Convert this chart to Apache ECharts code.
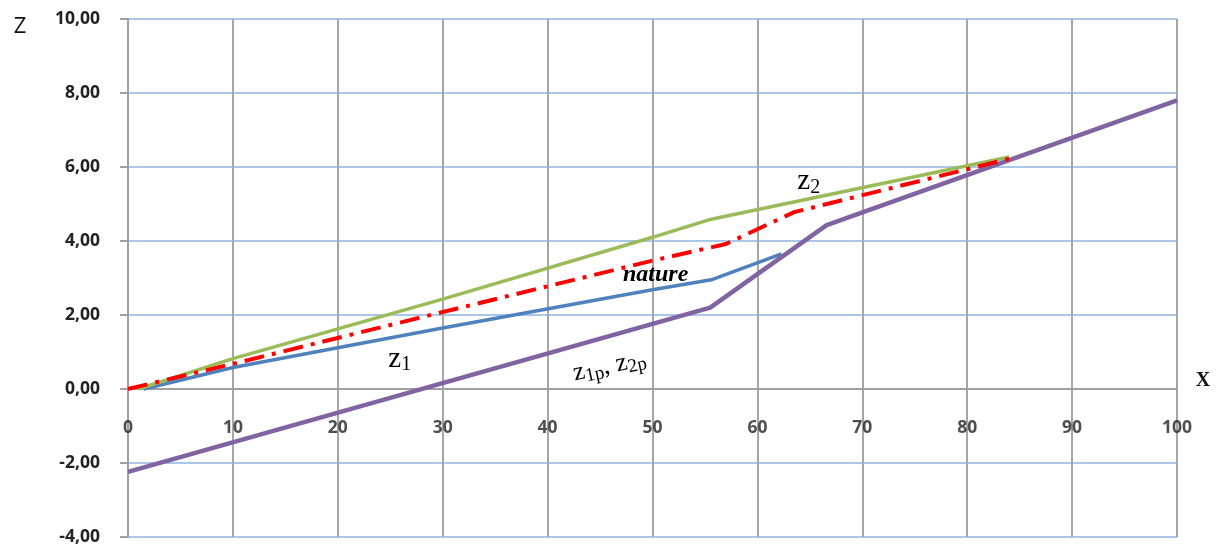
<!DOCTYPE html>
<html>
<head>
<meta charset="utf-8">
<script src="https://cdn.jsdelivr.net/npm/echarts@6/dist/echarts.min.js"></script>
<style>
html,body{margin:0;padding:0;background:#fff;}
#chart{width:1221px;height:549px;}
</style>
</head>
<body>
<div id="chart"></div>
<script>
// ---- data ----
const xTicks = [0, 10, 20, 30, 40, 50, 60, 70, 80, 90, 100];
const yTicks = [-4, -2, 0, 2, 4, 6, 8, 10];

const z1X = [1.5, 10, 30, 50, 55.6, 62.3];
const z1Y = [0, 0.58, 1.65, 2.68, 2.95, 3.65];

const z2X = [1, 10, 30, 50, 55.6, 84];
const z2Y = [0, 0.82, 2.43, 4.1, 4.59, 6.27];

const natureX = [0, 10, 30, 50, 57, 63.5, 84.7];
const natureY = [0, 0.68, 2.08, 3.47, 3.92, 4.78, 6.27];

const zpX = [0, 55.5, 66.6, 100];
const zpY = [-2.24, 2.2, 4.43, 7.8];

// annotation texts and anchor (data coords)
const annoTexts = ['z1', 'z2', 'z1p', 'nature'];
const annoX = [25.9, 64.9, 45.9, 50.3];
const annoY = [0.81, 5.6, 0.62, 3.08];

const pairs = (xs, ys) => xs.map((x, i) => [x, ys[i]]);

const chart = echarts.init(document.getElementById('chart'), null, {renderer: 'canvas'});

const labelFont = {fontFamily: 'Open Sans', fontWeight: 'bold', fontSize: 17.5, color: '#222'};

const option = {
  animation: false,
  backgroundColor: '#ffffff',
  grid: {left: 128, right: 44, top: 19, bottom: 12, containLabel: false, outerBoundsMode: 'none'},
  xAxis: {
    type: 'value', min: xTicks[0], max: xTicks[xTicks.length - 1], interval: 10,
    axisLine: {onZero: true, lineStyle: {color: '#A0A0A0', width: 2}},
    axisTick: {show: false},
    axisLabel: {show: false},
    splitLine: {show: true, lineStyle: {color: '#A6A6A6', width: 2}}
  },
  yAxis: {
    type: 'value', min: yTicks[0], max: yTicks[yTicks.length - 1], interval: 2,
    axisLine: {show: true, onZero: false, lineStyle: {color: '#A0A0A0', width: 2}},
    axisTick: {show: true, inside: false, length: 8, lineStyle: {color: '#A0A0A0', width: 2}},
    axisLabel: Object.assign({margin: 28, formatter: v => v.toFixed(2).replace('.', ',')}, labelFont),
    splitLine: {show: true, lineStyle: {color: '#8EB4E3', width: 1.5}}
  },
  series: [
    {name: 'z1', type: 'line', data: pairs(z1X, z1Y), showSymbol: false, symbol: 'none',
     lineStyle: {color: '#4F81BD', width: 3.5}, z: 3},
    {name: 'z2', type: 'line', data: pairs(z2X, z2Y), showSymbol: false, symbol: 'none',
     lineStyle: {color: '#9BBB59', width: 3.5}, z: 3},
    {name: 'zp', type: 'line', data: pairs(zpX, zpY), showSymbol: false, symbol: 'none',
     lineStyle: {color: '#8064A2', width: 4.5}, z: 4},
    {name: 'nature', type: 'line', data: pairs(natureX, natureY), showSymbol: false, symbol: 'none',
     lineStyle: {color: '#FF0000', width: 4, type: [20, 8, 4, 8]}, z: 5},
    // x tick labels placed along the zero line
    {name: 'xlabels', type: 'scatter', data: xTicks.map(v => [v, 0]), symbolSize: 0, silent: true,
     label: Object.assign({show: true, position: 'bottom', distance: 30,
       formatter: p => String(p.value[0])}, labelFont), z: 6}
  ]
};
chart.setOption(option);

// annotations positioned from data coordinates
const serif = 'Liberation Serif, "Times New Roman", serif';
const richZ = {
  z: {fontFamily: serif, fontSize: 29, color: '#111', lineHeight: 32, verticalAlign: 'middle'},
  s: {fontFamily: serif, fontSize: 20, color: '#111', lineHeight: 32, verticalAlign: 'bottom'}
};
const P = i => chart.convertToPixel({gridIndex: 0}, [annoX[i], annoY[i]]);

const graphics = [];
let p = P(0);
graphics.push({type: 'text', x: p[0], y: p[1], z: 10,
  style: {text: '{z|z}{s|1}', rich: richZ, align: 'center', verticalAlign: 'middle'}});
p = P(1);
graphics.push({type: 'text', x: p[0], y: p[1], z: 10,
  style: {text: '{z|z}{s|2}', rich: richZ, align: 'center', verticalAlign: 'middle'}});
p = P(2);
const richP = {
  z: {fontFamily: serif, fontSize: 26, color: '#111', lineHeight: 30, verticalAlign: 'middle'},
  s: {fontFamily: serif, fontSize: 19, color: '#111', lineHeight: 30, verticalAlign: 'bottom'}
};
graphics.push({type: 'text', x: p[0], y: p[1], rotation: 12 * Math.PI / 180, z: 10,
  style: {text: '{z|z}{s|1p}{z|, z}{s|2p}', rich: richP, align: 'center', verticalAlign: 'middle'}});
p = P(3);
graphics.push({type: 'text', x: p[0], y: p[1], z: 10,
  style: {text: 'nature', font: 'italic bold 24px ' + serif, fill: '#000', align: 'center', verticalAlign: 'middle'}});
const zPos = chart.convertToPixel({gridIndex: 0}, [xTicks[0], yTicks[yTicks.length - 1]]);
graphics.push({type: 'text', x: zPos[0] - 108, y: zPos[1] + 8, z: 10,
  style: {text: 'Z', font: '22px "Open Sans", sans-serif', fill: '#111', align: 'center', verticalAlign: 'middle'}});
const xPos = chart.convertToPixel({gridIndex: 0}, [xTicks[xTicks.length - 1], 0]);
graphics.push({type: 'text', x: xPos[0] + 26, y: xPos[1] - 8, z: 10,
  style: {text: 'X', font: 'bold 20px ' + serif, fill: '#111', align: 'center', verticalAlign: 'middle'}});

chart.setOption({graphic: graphics});
</script>
</body>
</html>
